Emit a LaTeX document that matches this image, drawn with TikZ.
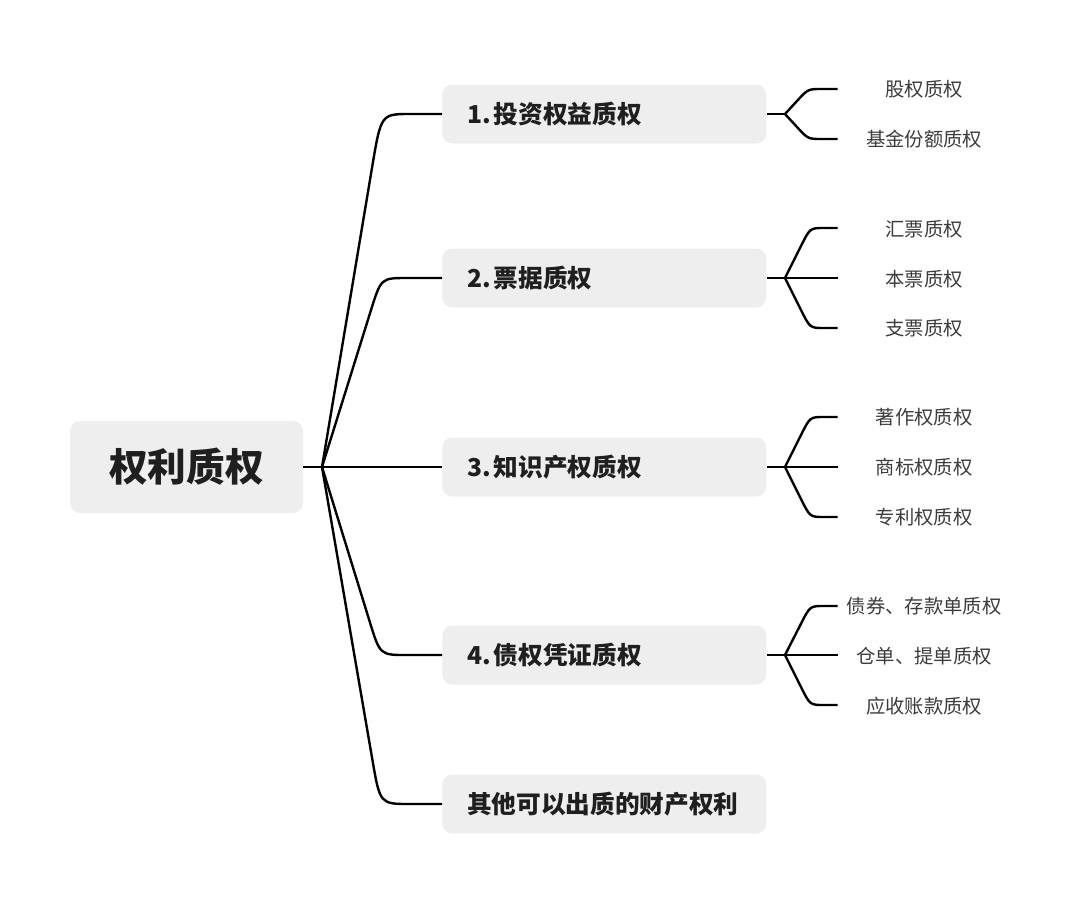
\documentclass[tikz,border=0pt]{standalone}
\usepackage{fontspec}
\setmainfont{Noto Sans CJK SC}
\usetikzlibrary{calc}
\definecolor{boxgray}{HTML}{EEEEEE}
\definecolor{txt}{HTML}{1F1F1F}
\definecolor{leaftxt}{HTML}{3C3C3C}
\begin{document}
\begin{tikzpicture}[x=0.75pt,y=-0.75pt,
  box/.style={fill=boxgray, rounded corners=7.5pt, draw=none},
  rootbox/.style={box, minimum width=174.75pt, minimum height=69pt, inner sep=0pt,
    font=\fontsize{29}{34}\selectfont\bfseries, text=txt},
  branch/.style={box, anchor=west, minimum height=44.25pt, text width=205.5pt,
    inner xsep=18.75pt, inner ysep=0pt, align=left,
    font=\fontsize{18.5}{22}\selectfont\bfseries, text=txt},
  leaf/.style={text width=129pt, align=center, inner sep=0pt,
    font=\fontsize{14.5}{17}\selectfont, text=leaftxt},
  conn/.style={line width=1.8pt, draw=black}
]
\useasboundingbox (0,0) rectangle (1080,904);

% root
\node[rootbox] (root) at (186.5,467) {权利质权};
\coordinate (rj) at (322,467);

% branches
\node[branch] (b1) at (442,114) {1.\hspace{0.12em}投资权益质权};
\node[branch] (b2) at (442,278) {2.\hspace{0.12em}票据质权};
\node[branch] (b3) at (442,467) {3.\hspace{0.12em}知识产权质权};
\node[branch] (b4) at (442,655) {4.\hspace{0.12em}债权凭证质权};
\node[branch] (b5) at (442,804) {其他可以出质的财产权利};

\draw[conn] (root.east) -- (rj);
\draw[conn] (rj) -- ($(381,114)!41pt!(rj)$) .. controls (381,114) .. (410,114) -- (b1.west);
\draw[conn] (rj) -- ($(381,278)!26pt!(rj)$) .. controls (381,278) .. (407,278) -- (b2.west);
\draw[conn] (rj) -- (b3.west);
\draw[conn] (rj) -- ($(380,655)!26pt!(rj)$) .. controls (380,655) .. (407,655) -- (b4.west);
\draw[conn] (rj) -- ($(380,804)!34pt!(rj)$) .. controls (380,804) .. (410,804) -- (b5.west);

% leaves of b1
\coordinate (j1) at (785,114);
\node[leaf] (l11) at (924,89) {股权质权};
\node[leaf] (l12) at (924,139) {基金份额质权};
\draw[conn] (b1.east) -- (j1);
\draw[conn] (j1) -- ($(808,89)!12pt!(j1)$) .. controls (808,89) .. (822,89) -- (l11.west);
\draw[conn] (j1) -- ($(808,139)!12pt!(j1)$) .. controls (808,139) .. (822,139) -- (l12.west);

% leaves of b2
\coordinate (j2) at (785,278);
\node[leaf] (l21) at (924,229) {汇票质权};
\node[leaf] (l22) at (924,279) {本票质权};
\node[leaf] (l23) at (924,328) {支票质权};
\draw[conn] (b2.east) -- (j2);
\draw[conn] (j2) -- ($(810,228)!15pt!(j2)$) .. controls (810,228) .. (824,228) -- (l21.west |- 0,228);
\draw[conn] (j2) -- (l22.west |- j2);
\draw[conn] (j2) -- ($(810,328)!15pt!(j2)$) .. controls (810,328) .. (824,328) -- (l23.west |- 0,328);

% leaves of b3
\coordinate (j3) at (785,467);
\node[leaf] (l31) at (924,417) {著作权质权};
\node[leaf] (l32) at (924,467) {商标权质权};
\node[leaf] (l33) at (924,517) {专利权质权};
\draw[conn] (b3.east) -- (j3);
\draw[conn] (j3) -- ($(810,417)!15pt!(j3)$) .. controls (810,417) .. (824,417) -- (l31.west);
\draw[conn] (j3) -- (l32.west);
\draw[conn] (j3) -- ($(810,517)!15pt!(j3)$) .. controls (810,517) .. (824,517) -- (l33.west);

% leaves of b4
\coordinate (j4) at (785,655);
\node[leaf] (l41) at (924,606) {债券、存款单质权};
\node[leaf] (l42) at (924,656) {仓单、提单质权};
\node[leaf] (l43) at (924,706) {应收账款质权};
\draw[conn] (b4.east) -- (j4);
\draw[conn] (j4) -- ($(810,606)!15pt!(j4)$) .. controls (810,606) .. (824,606) -- (l41.west);
\draw[conn] (j4) -- (l42.west |- j4);
\draw[conn] (j4) -- ($(810,705)!15pt!(j4)$) .. controls (810,705) .. (824,705) -- (l43.west |- 0,705);
\end{tikzpicture}
\end{document}
